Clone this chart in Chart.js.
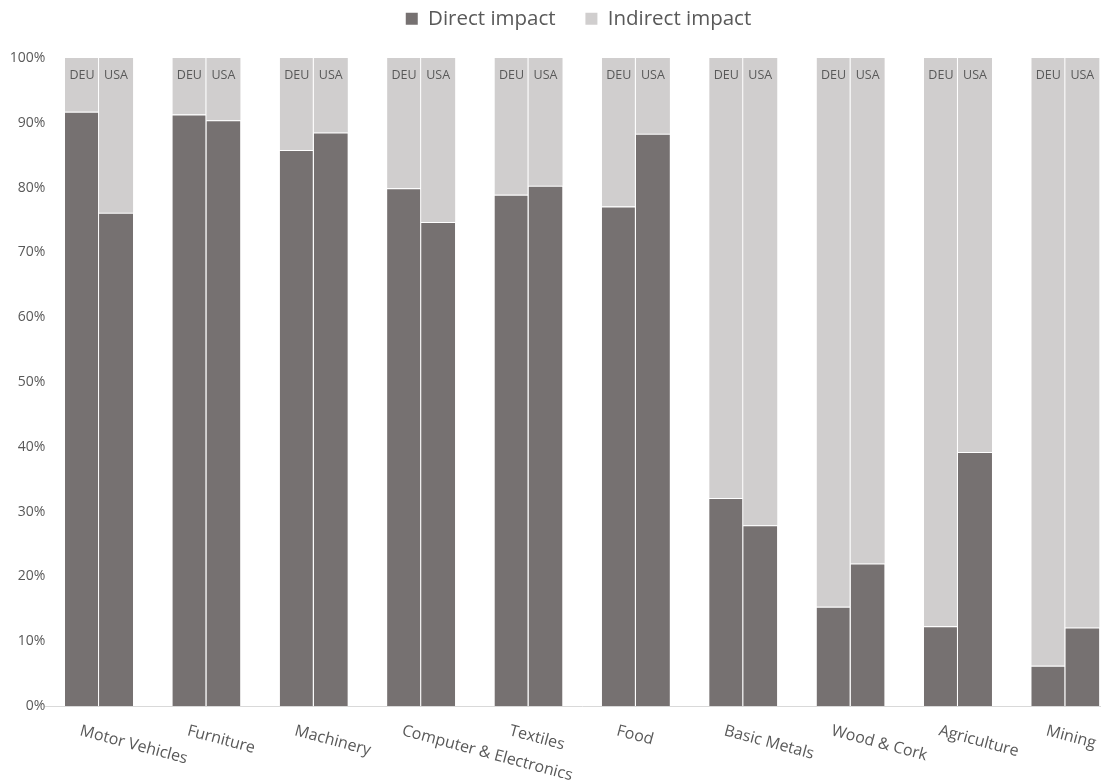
<!DOCTYPE html>
<html>
<head>
<meta charset="utf-8">
<script src="https://cdn.jsdelivr.net/npm/chart.js@4.4.0/dist/chart.umd.min.js"></script>
<style>
  html, body { margin: 0; padding: 0; background: #fff; overflow: hidden; }
  #wrap { position: absolute; left: 0; top: 0; width: 1119px; height: 784px; }
</style>
</head>
<body>
<div id="wrap"><canvas id="impactChart"></canvas></div>
<script>
// データ
const categories = ['Motor Vehicles', 'Furniture', 'Machinery', 'Computer & Electronics', 'Textiles',
                    'Food', 'Basic Metals', 'Wood & Cork', 'Agriculture', 'Mining'];
const countries = ['DEU', 'USA'];
const deuDirect   = [91.7, 91.3, 85.8, 79.9, 78.9, 77.1, 32.1, 15.3, 12.3, 6.2];
const deuIndirect = [8.3, 8.7, 14.2, 20.1, 21.1, 22.9, 67.9, 84.7, 87.7, 93.8];
const usaDirect   = [76.1, 90.4, 88.5, 74.7, 80.3, 88.3, 27.9, 22.0, 39.2, 12.1];
const usaIndirect = [23.9, 9.6, 11.5, 25.3, 19.7, 11.7, 72.1, 78.0, 60.8, 87.9];
const yTicks = [0, 10, 20, 30, 40, 50, 60, 70, 80, 90, 100];

const DIRECT = '#767171';
const INDIRECT = '#d0cece';
const TEXT = '#595959';
const FONT = "'Open Sans', sans-serif";

// 凡例の下に余白を追加、凡例を右へずらす
const legendSpace = {
    id: 'legendSpace',
    beforeInit(chart) {
        const fit = chart.legend.fit;
        chart.legend.fit = function () {
            fit.bind(chart.legend)();
            this.height += 19;
        };
    },
    afterLayout(chart) {
        chart.legend.left = 38;
    }
};

// バー上部の国名と傾いたカテゴリ名
const customLabels = {
    id: 'customLabels',
    afterDatasetsDraw(chart) {
        const ctx = chart.ctx;
        const x = chart.scales.x;
        const y = chart.scales.y;
        ctx.save();
        ctx.fillStyle = TEXT;

        // DEU / USA
        ctx.font = '12.5px ' + FONT;
        ctx.textAlign = 'center';
        ctx.textBaseline = 'middle';
        [1, 3].forEach((dsIndex, c) => {
            chart.getDatasetMeta(dsIndex).data.forEach(bar => {
                ctx.fillText(countries[c], bar.x, y.getPixelForValue(100) + 17);
            });
        });

        // x軸ラベル
        ctx.font = '16px ' + FONT;
        ctx.textAlign = 'left';
        ctx.textBaseline = 'alphabetic';
        categories.forEach((name, i) => {
            ctx.save();
            ctx.translate(x.getPixelForValue(i) - 20, chart.chartArea.bottom + 29);
            ctx.rotate(15 * Math.PI / 180);
            ctx.fillText(name, 0, 0);
            ctx.restore();
        });
        ctx.restore();
    }
};

function bars(label, data, color, stack, top, right) {
    return {
        label: label,
        data: data,
        backgroundColor: color,
        borderColor: '#ffffff',
        borderWidth: { top: top, right: right, bottom: 0, left: 0 },
        borderSkipped: false,
        stack: stack,
        categoryPercentage: 0.634,
        barPercentage: 1.0
    };
}

const ctx = document.getElementById('impactChart').getContext('2d');
const impactChart = new Chart(ctx, {
    type: 'bar',
    data: {
        labels: categories,
        datasets: [
            bars('Direct impact', deuDirect, DIRECT, 'DEU', 1, 1),
            bars('Indirect impact', deuIndirect, INDIRECT, 'DEU', 0, 1),
            bars('Direct impact', usaDirect, DIRECT, 'USA', 1, 0),
            bars('Indirect impact', usaIndirect, INDIRECT, 'USA', 0, 0)
        ]
    },
    options: {
        responsive: true,
        maintainAspectRatio: false,
        animation: false,
        layout: { padding: 0 },
        plugins: {
            legend: {
                position: 'top',
                labels: {
                    font: { family: FONT, size: 20.5 },
                    color: TEXT,
                    boxWidth: 12,
                    boxHeight: 12,
                    padding: 8.5,
                    filter: item => item.datasetIndex < 2,
                    generateLabels(chart) {
                        const items = Chart.defaults.plugins.legend.labels.generateLabels(chart);
                        items.forEach(it => {
                            it.lineWidth = 0;
                            if (it.datasetIndex === 0) it.text = it.text + '    ';
                        });
                        return items;
                    }
                }
            },
            tooltip: { enabled: false }
        },
        scales: {
            x: {
                stacked: true,
                grid: { display: false },
                border: { display: true, color: '#d9d9d9', width: 1 },
                ticks: { display: false },
                afterFit(scale) { scale.height = 78; }
            },
            y: {
                stacked: true,
                min: 0,
                max: 100,
                grid: { display: false, drawTicks: false },
                border: { display: false },
                ticks: {
                    color: TEXT,
                    font: { family: FONT, size: 14 },
                    padding: 0,
                    callback: v => v + '%'
                },
                afterBuildTicks(scale) { scale.ticks = yTicks.map(v => ({ value: v })); },
                afterFit(scale) { scale.width = 45.35; }
            }
        }
    },
    plugins: [legendSpace, customLabels]
});
</script>
</body>
</html>
